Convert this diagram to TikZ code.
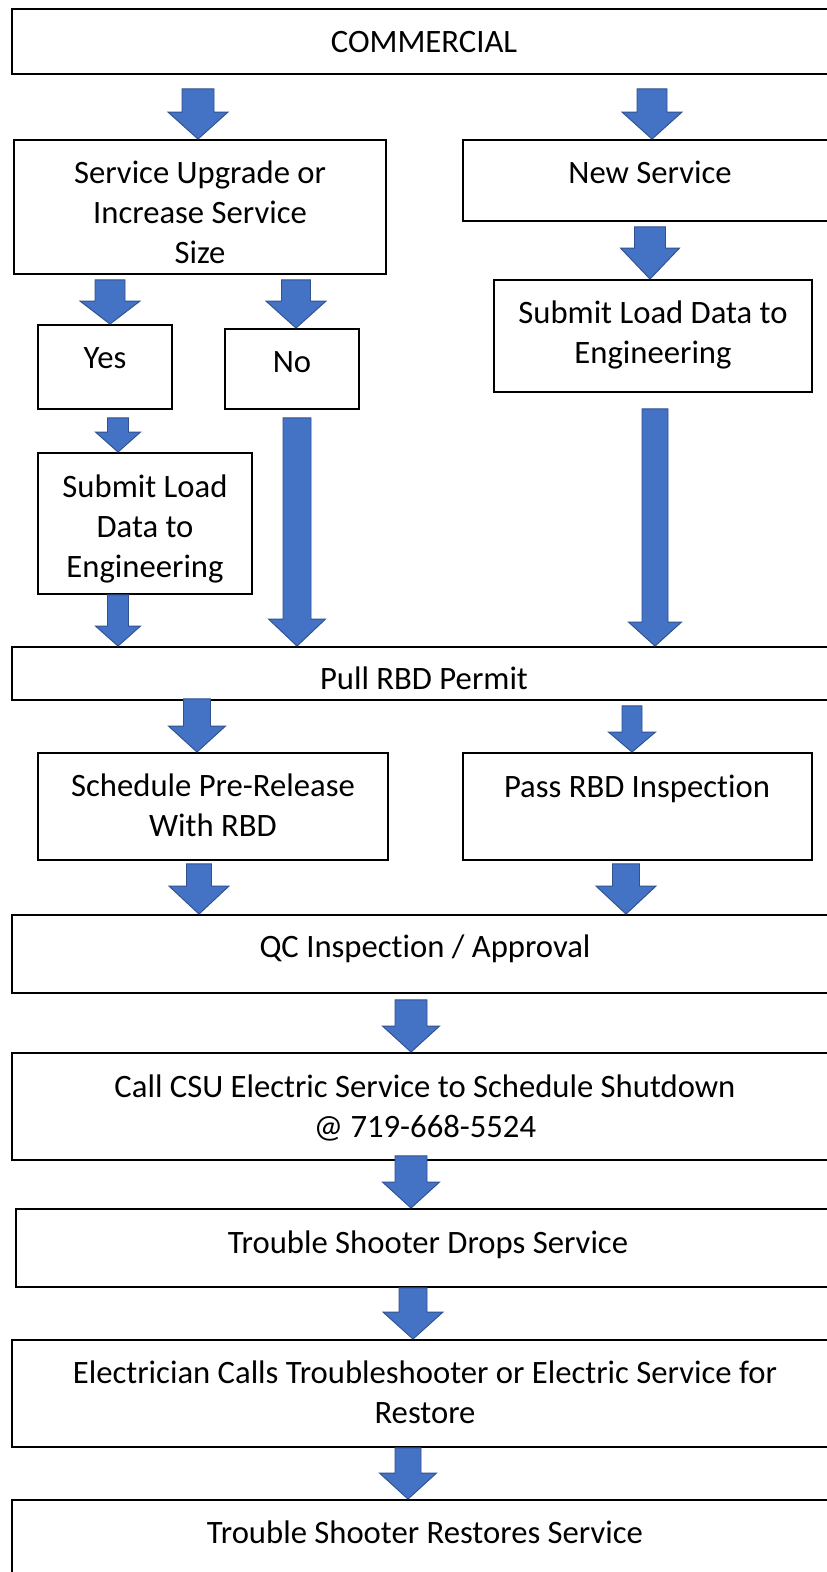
\documentclass[tikz,border=0pt]{standalone}
\usepackage{fontspec}
\setmainfont{Carlito}[Ligatures=NoCommon]
\usetikzlibrary{calc,fit}

\definecolor{arrowfill}{HTML}{4472C4}
\definecolor{arrowline}{HTML}{2F528F}

\tikzset{
  stepbox/.style={draw=black, line width=1.4pt, fill=none, inner sep=0pt, rectangle},
  txt/.style={anchor=base, align=center, inner sep=0pt,
              font=\fontsize{24.5pt}{30pt}\selectfont},
  blockarrow/.style={fill=arrowfill, draw=arrowline, line width=0.7pt, line join=miter},
}

% block arrow: source, target, centre x, gap below source, head length,
% half shaft width, half head width (all in px units)
\newcommand\flowarrow[7]{%
  \filldraw[blockarrow]
    ($(#3,0 |- #1.south)+(-#6,#4)$) --
    ($(#3,0 |- #1.south)+(#6,#4)$) --
    ($(#3,0 |- #2.north)+(#6,-#5)$) --
    ($(#3,0 |- #2.north)+(#7,-#5)$) --
    (#3,0 |- #2.north) --
    ($(#3,0 |- #2.north)+(-#7,-#5)$) --
    ($(#3,0 |- #2.north)+(-#6,-#5)$) -- cycle;
}

\begin{document}
\begin{tikzpicture}[x=0.75pt, y=-0.75pt]
\useasboundingbox (0,0) rectangle (827,1572);
\clip (0,0) rectangle (827,1572);
\fill[white] (0,0) rectangle (827,1572);

% boxes
\node[stepbox, fit={(12,9) (836,74)}]      (cm)    {};
\node[stepbox, fit={(14,140) (386,274)}]   (su)    {};
\node[stepbox, fit={(463,140) (837,221)}]  (ns)    {};
\node[stepbox, fit={(494,280) (812,392)}]  (sr)    {};
\node[stepbox, fit={(38,325) (172,409)}]   (yes)   {};
\node[stepbox, fit={(225,329) (359,409)}]  (no)    {};
\node[stepbox, fit={(38,453) (252,594)}]   (sl)    {};
\node[stepbox, fit={(12,647) (836,700)}]   (pull)  {};
\node[stepbox, fit={(38,753) (388,860)}]   (sch)   {};
\node[stepbox, fit={(463,753) (812,860)}]  (pass)  {};
\node[stepbox, fit={(12,915) (836,993)}]   (qc)    {};
\node[stepbox, fit={(12,1053) (836,1160)}] (call)  {};
\node[stepbox, fit={(16,1209) (836,1287)}] (drops) {};
\node[stepbox, fit={(12,1340) (836,1447)}] (elec)  {};
\node[stepbox, fit={(12,1500) (836,1600)}] (rest)  {};

% texts (multi-line nodes sit on the baseline of their last line)
\node[txt] (t-cm)    at (424,52)   {COMMERCIAL};
\node[txt] (t-su)    at (200,263)  {Service Upgrade or\\Increase Service\\Size};
\node[txt] (t-ns)    at (650,183)  {New Service};
\node[txt] (t-sr)    at (653,363)  {Submit Load Data to\\Engineering};
\node[txt] (t-yes)   at (105,368)  {Yes};
\node[txt] (t-no)    at (292,372)  {No};
\node[txt] (t-sl)    at (145,577)  {Submit Load\\Data to\\Engineering};
\node[txt] (t-pull)  at (424,689)  {Pull RBD Permit};
\node[txt] (t-sch)   at (213,836)  {Schedule Pre-Release\\With RBD};
\node[txt] (t-pass)  at (637,797)  {Pass RBD Inspection};
\node[txt] (t-qc)    at (425,957)  {QC Inspection / Approval};
\node[txt] (t-call)  at (425,1137) {Call CSU Electric Service to Schedule Shutdown\\@ 719-668-5524};
\node[txt] (t-drops) at (428,1253) {Trouble Shooter Drops Service};
\node[txt] (t-elec)  at (425,1423) {Electrician Calls Troubleshooter or Electric Service for\\Restore};
\node[txt] (t-rest)  at (425,1543) {Trouble Shooter Restores Service};

% arrows
\flowarrow{cm}{su}{198}{14}{27}{16}{30}
\flowarrow{cm}{ns}{652}{14}{27}{15}{30}
\flowarrow{ns}{sr}{650}{5}{31}{15.5}{29.5}
\flowarrow{su}{yes}{110}{5}{23}{15}{30}
\flowarrow{su}{no}{296}{5}{27}{14.5}{30}
\flowarrow{yes}{sl}{118}{8}{20}{10.5}{22.5}
\flowarrow{sl}{pull}{118}{0}{20}{10.5}{22.5}
\flowarrow{no}{pull}{297}{8}{27}{14}{28.5}
\flowarrow{sr}{pull}{655}{16}{24}{13}{26.5}
\flowarrow{pull}{sch}{197}{-2}{26}{13.5}{28.5}
\flowarrow{pull}{pass}{632}{5}{20}{10}{23.5}
\flowarrow{sch}{qc}{199}{3}{28}{12.5}{30}
\flowarrow{pass}{qc}{626}{3}{28}{13.5}{30}
\flowarrow{qc}{call}{411}{6}{26}{16}{28.5}
\flowarrow{call}{drops}{411}{-5}{26}{16}{28.5}
\flowarrow{drops}{elec}{413}{0}{27}{14}{30}
\flowarrow{elec}{rest}{408}{0}{26}{13}{28.5}
\end{tikzpicture}
\end{document}
